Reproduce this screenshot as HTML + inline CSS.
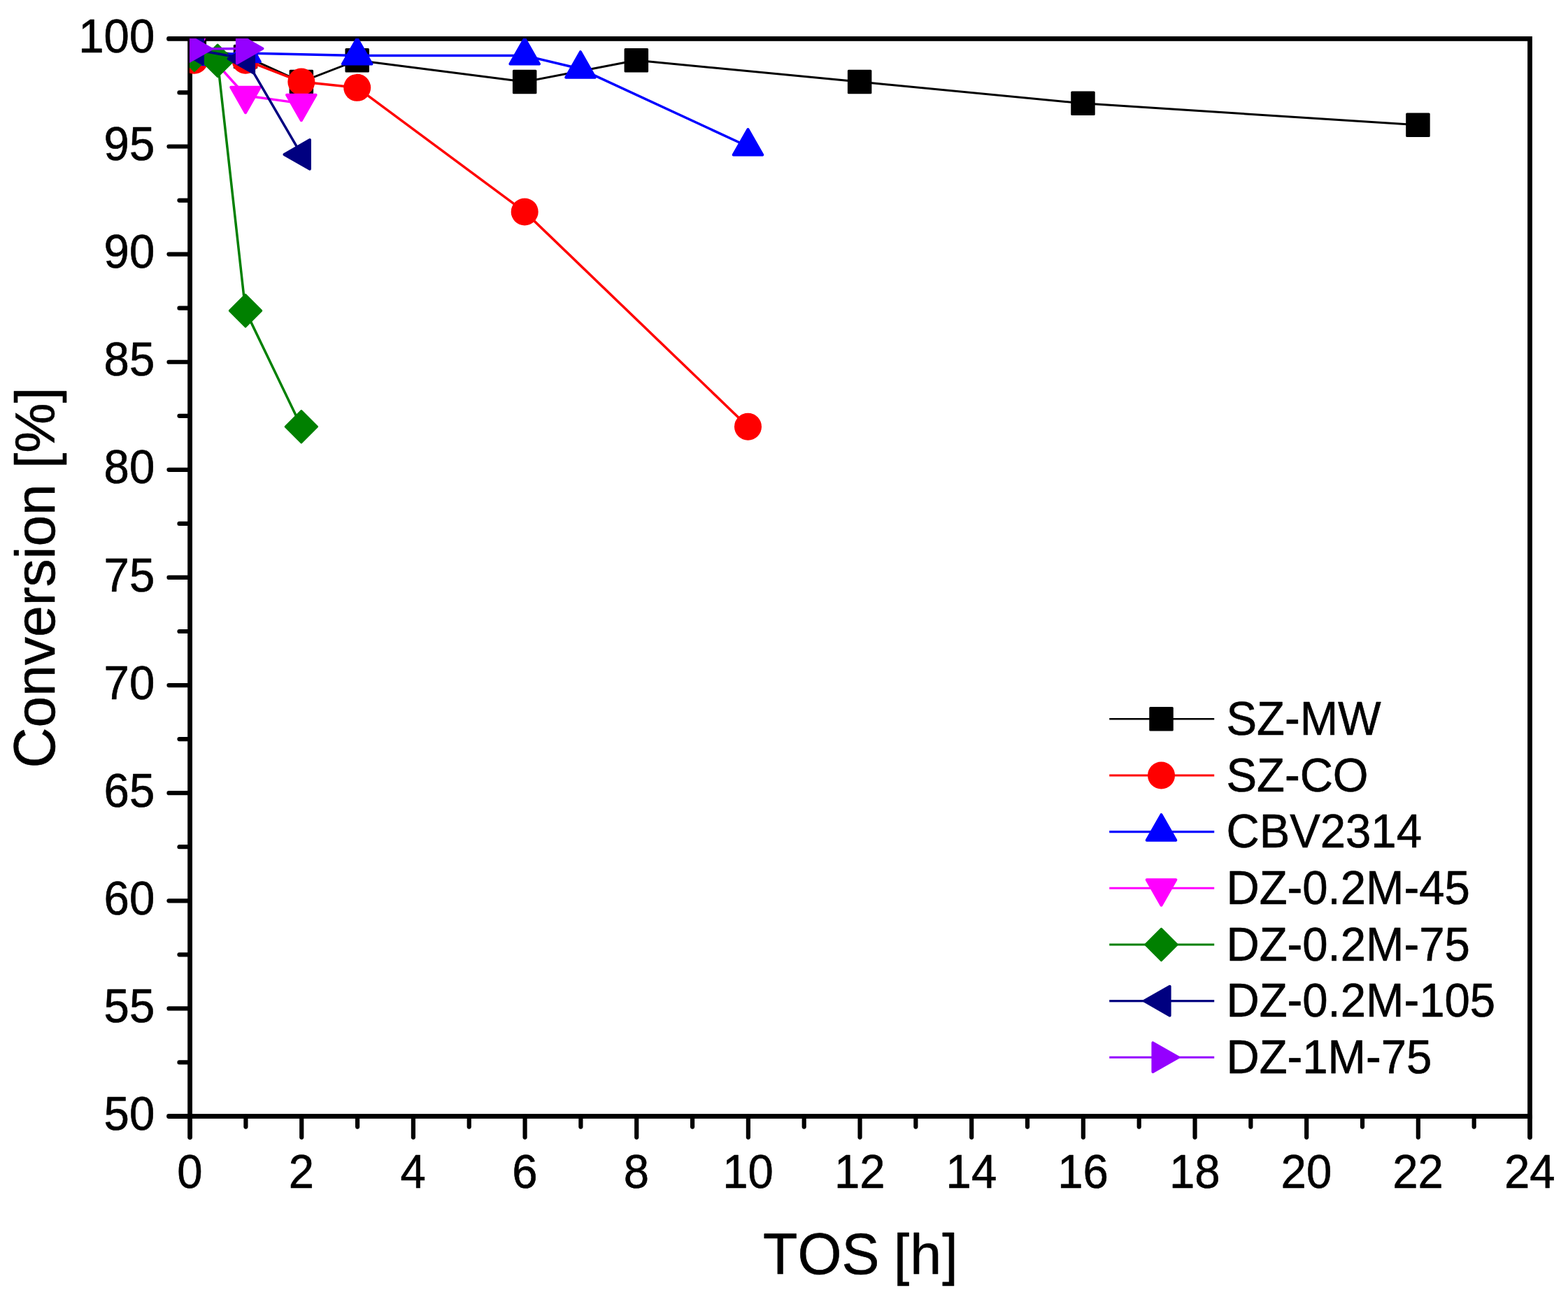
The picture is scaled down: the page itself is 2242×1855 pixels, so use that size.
<!DOCTYPE html>
<html lang="en">
<head>
<meta charset="utf-8">
<title>Conversion vs TOS</title>
<style>
html,body{margin:0;padding:0;background:#fff;}
body{width:2242px;height:1855px;overflow:hidden;}
svg{display:block;}
text{font-family:"Liberation Sans",sans-serif;fill:#000;font-kerning:none;stroke:#000;stroke-width:0.6px;stroke-linejoin:round;}
</style>
</head>
<body>
<svg width="2242" height="1855" viewBox="0 0 2242 1855">
<rect x="0" y="0" width="2242" height="1855" fill="#ffffff"/>
<defs><clipPath id="plotclip"><rect x="271.00" y="55.00" width="1917.00" height="1542.00"/></clipPath></defs>
<g id="axes" stroke="#000" fill="none">
<rect x="271.60" y="55.40" width="1915.90" height="1541.10" stroke-width="6.80" stroke-linejoin="miter"/>
<g stroke-width="6.20" stroke-linecap="round">
<line x1="271.60" y1="1596.50" x2="271.60" y2="1626.60" stroke-width="6.80"/>
<line x1="351.43" y1="1596.50" x2="351.43" y2="1611.60"/>
<line x1="431.26" y1="1596.50" x2="431.26" y2="1626.60"/>
<line x1="511.09" y1="1596.50" x2="511.09" y2="1611.60"/>
<line x1="590.92" y1="1596.50" x2="590.92" y2="1626.60"/>
<line x1="670.75" y1="1596.50" x2="670.75" y2="1611.60"/>
<line x1="750.58" y1="1596.50" x2="750.58" y2="1626.60"/>
<line x1="830.40" y1="1596.50" x2="830.40" y2="1611.60"/>
<line x1="910.23" y1="1596.50" x2="910.23" y2="1626.60"/>
<line x1="990.06" y1="1596.50" x2="990.06" y2="1611.60"/>
<line x1="1069.89" y1="1596.50" x2="1069.89" y2="1626.60"/>
<line x1="1149.72" y1="1596.50" x2="1149.72" y2="1611.60"/>
<line x1="1229.55" y1="1596.50" x2="1229.55" y2="1626.60"/>
<line x1="1309.38" y1="1596.50" x2="1309.38" y2="1611.60"/>
<line x1="1389.21" y1="1596.50" x2="1389.21" y2="1626.60"/>
<line x1="1469.04" y1="1596.50" x2="1469.04" y2="1611.60"/>
<line x1="1548.87" y1="1596.50" x2="1548.87" y2="1626.60"/>
<line x1="1628.70" y1="1596.50" x2="1628.70" y2="1611.60"/>
<line x1="1708.53" y1="1596.50" x2="1708.53" y2="1626.60"/>
<line x1="1788.35" y1="1596.50" x2="1788.35" y2="1611.60"/>
<line x1="1868.18" y1="1596.50" x2="1868.18" y2="1626.60"/>
<line x1="1948.01" y1="1596.50" x2="1948.01" y2="1611.60"/>
<line x1="2027.84" y1="1596.50" x2="2027.84" y2="1626.60"/>
<line x1="2107.67" y1="1596.50" x2="2107.67" y2="1611.60"/>
<line x1="2187.50" y1="1596.50" x2="2187.50" y2="1626.60" stroke-width="6.80"/>
<line x1="271.60" y1="1596.50" x2="241.50" y2="1596.50" stroke-width="6.80"/>
<line x1="271.60" y1="1519.44" x2="256.50" y2="1519.44"/>
<line x1="271.60" y1="1442.39" x2="241.50" y2="1442.39"/>
<line x1="271.60" y1="1365.34" x2="256.50" y2="1365.34"/>
<line x1="271.60" y1="1288.28" x2="241.50" y2="1288.28"/>
<line x1="271.60" y1="1211.22" x2="256.50" y2="1211.22"/>
<line x1="271.60" y1="1134.17" x2="241.50" y2="1134.17"/>
<line x1="271.60" y1="1057.12" x2="256.50" y2="1057.12"/>
<line x1="271.60" y1="980.06" x2="241.50" y2="980.06"/>
<line x1="271.60" y1="903.00" x2="256.50" y2="903.00"/>
<line x1="271.60" y1="825.95" x2="241.50" y2="825.95"/>
<line x1="271.60" y1="748.89" x2="256.50" y2="748.89"/>
<line x1="271.60" y1="671.84" x2="241.50" y2="671.84"/>
<line x1="271.60" y1="594.78" x2="256.50" y2="594.78"/>
<line x1="271.60" y1="517.73" x2="241.50" y2="517.73"/>
<line x1="271.60" y1="440.67" x2="256.50" y2="440.67"/>
<line x1="271.60" y1="363.62" x2="241.50" y2="363.62"/>
<line x1="271.60" y1="286.57" x2="256.50" y2="286.57"/>
<line x1="271.60" y1="209.51" x2="241.50" y2="209.51"/>
<line x1="271.60" y1="132.45" x2="256.50" y2="132.45"/>
<line x1="271.60" y1="55.40" x2="241.50" y2="55.40" stroke-width="6.80"/>
</g>
</g>
<g id="xticklabels" font-size="65.30" text-anchor="middle">
<text transform="translate(271.30 1698.80) scale(1 1.040)">0</text>
<text transform="translate(430.96 1698.80) scale(1 1.040)">2</text>
<text transform="translate(590.62 1698.80) scale(1 1.040)">4</text>
<text transform="translate(750.28 1698.80) scale(1 1.040)">6</text>
<text transform="translate(909.93 1698.80) scale(1 1.040)">8</text>
<text transform="translate(1069.59 1698.80) scale(1 1.040)">10</text>
<text transform="translate(1229.25 1698.80) scale(1 1.040)">12</text>
<text transform="translate(1388.91 1698.80) scale(1 1.040)">14</text>
<text transform="translate(1548.57 1698.80) scale(1 1.040)">16</text>
<text transform="translate(1708.23 1698.80) scale(1 1.040)">18</text>
<text transform="translate(1867.88 1698.80) scale(1 1.040)">20</text>
<text transform="translate(2027.54 1698.80) scale(1 1.040)">22</text>
<text transform="translate(2187.20 1698.80) scale(1 1.040)">24</text>
</g>
<g id="yticklabels" font-size="65.30" text-anchor="end">
<text transform="translate(221.20 1616.10) scale(1 1.040)">50</text>
<text transform="translate(221.20 1461.99) scale(1 1.040)">55</text>
<text transform="translate(221.20 1307.88) scale(1 1.040)">60</text>
<text transform="translate(221.20 1153.77) scale(1 1.040)">65</text>
<text transform="translate(221.20 999.66) scale(1 1.040)">70</text>
<text transform="translate(221.20 845.55) scale(1 1.040)">75</text>
<text transform="translate(221.20 691.44) scale(1 1.040)">80</text>
<text transform="translate(221.20 537.33) scale(1 1.040)">85</text>
<text transform="translate(221.20 383.22) scale(1 1.040)">90</text>
<text transform="translate(221.20 229.11) scale(1 1.040)">95</text>
<text transform="translate(221.20 75.00) scale(1 1.040)">100</text>
</g>
<text id="xlabel" x="1091.1" y="1822.0" font-size="80.90"><tspan font-size="84.14" textLength="166.30" lengthAdjust="spacingAndGlyphs">TOS</tspan><tspan dx="-2.9" letter-spacing="0.9"> [h]</tspan></text>
<text id="ylabel" transform="translate(78.2 826.2) rotate(-90)" font-size="80.30" text-anchor="middle"><tspan font-size="83.51" textLength="57.99" lengthAdjust="spacingAndGlyphs">C</tspan>onversion [%]</text>
<g id="data" clip-path="url(#plotclip)">
<g>
<polyline points="277.85,67.73 351.03,80.98 430.86,117.04 510.69,86.22 750.18,117.04 909.83,86.22 1229.15,117.04 1548.47,147.87 2027.44,178.69" fill="none" stroke="#000000" stroke-width="3.00" stroke-linejoin="round"/>
<rect x="262.10" y="51.98" width="31.50" height="31.50" fill="#000000" stroke="#000000" stroke-width="3.0" stroke-linejoin="round"/>
<rect x="335.28" y="65.23" width="31.50" height="31.50" fill="#000000" stroke="#000000" stroke-width="3.0" stroke-linejoin="round"/>
<rect x="415.11" y="101.29" width="31.50" height="31.50" fill="#000000" stroke="#000000" stroke-width="3.0" stroke-linejoin="round"/>
<rect x="494.94" y="70.47" width="31.50" height="31.50" fill="#000000" stroke="#000000" stroke-width="3.0" stroke-linejoin="round"/>
<rect x="734.43" y="101.29" width="31.50" height="31.50" fill="#000000" stroke="#000000" stroke-width="3.0" stroke-linejoin="round"/>
<rect x="894.08" y="70.47" width="31.50" height="31.50" fill="#000000" stroke="#000000" stroke-width="3.0" stroke-linejoin="round"/>
<rect x="1213.40" y="101.29" width="31.50" height="31.50" fill="#000000" stroke="#000000" stroke-width="3.0" stroke-linejoin="round"/>
<rect x="1532.72" y="132.12" width="31.50" height="31.50" fill="#000000" stroke="#000000" stroke-width="3.0" stroke-linejoin="round"/>
<rect x="2011.69" y="162.94" width="31.50" height="31.50" fill="#000000" stroke="#000000" stroke-width="3.0" stroke-linejoin="round"/>
</g>
<g>
<polyline points="277.85,86.22 351.03,86.22 430.86,117.04 510.69,125.37 750.18,302.90 1069.49,610.20" fill="none" stroke="#ff0000" stroke-width="3.50" stroke-linejoin="round"/>
<circle cx="277.85" cy="86.22" r="19.50" fill="#ff0000"/>
<circle cx="351.03" cy="86.22" r="19.50" fill="#ff0000"/>
<circle cx="430.86" cy="117.04" r="19.50" fill="#ff0000"/>
<circle cx="510.69" cy="125.37" r="19.50" fill="#ff0000"/>
<circle cx="750.18" cy="302.90" r="19.50" fill="#ff0000"/>
<circle cx="1069.49" cy="610.20" r="19.50" fill="#ff0000"/>
</g>
<g>
<polyline points="277.85,80.06 351.03,76.05 510.69,79.44 750.18,79.44 830.00,98.55 1069.49,209.51" fill="none" stroke="#0000ff" stroke-width="3.50" stroke-linejoin="round"/>
<polygon points="277.85,55.66 298.65,92.16 257.05,92.16" fill="#0000ff" stroke="#0000ff" stroke-width="4.0" stroke-linejoin="round"/>
<polygon points="351.03,51.65 371.83,88.15 330.23,88.15" fill="#0000ff" stroke="#0000ff" stroke-width="4.0" stroke-linejoin="round"/>
<polygon points="510.69,55.04 531.49,91.54 489.89,91.54" fill="#0000ff" stroke="#0000ff" stroke-width="4.0" stroke-linejoin="round"/>
<polygon points="750.18,55.04 770.98,91.54 729.38,91.54" fill="#0000ff" stroke="#0000ff" stroke-width="4.0" stroke-linejoin="round"/>
<polygon points="830.00,74.15 850.80,110.65 809.20,110.65" fill="#0000ff" stroke="#0000ff" stroke-width="4.0" stroke-linejoin="round"/>
<polygon points="1069.49,185.11 1090.29,221.61 1048.69,221.61" fill="#0000ff" stroke="#0000ff" stroke-width="4.0" stroke-linejoin="round"/>
</g>
<g>
<polyline points="277.85,55.40 351.03,136.77 430.86,147.87" fill="none" stroke="#ff00ff" stroke-width="3.50" stroke-linejoin="round"/>
<polygon points="277.85,79.80 298.65,43.30 257.05,43.30" fill="#ff00ff" stroke="#ff00ff" stroke-width="4.0" stroke-linejoin="round"/>
<polygon points="351.03,161.17 371.83,124.67 330.23,124.67" fill="#ff00ff" stroke="#ff00ff" stroke-width="4.0" stroke-linejoin="round"/>
<polygon points="430.86,172.27 451.66,135.77 410.06,135.77" fill="#ff00ff" stroke="#ff00ff" stroke-width="4.0" stroke-linejoin="round"/>
</g>
<g>
<polyline points="277.85,78.82 311.11,86.84 351.03,444.37 430.86,610.20" fill="none" stroke="#008000" stroke-width="3.50" stroke-linejoin="round"/>
<polygon points="277.85,56.12 300.55,78.82 277.85,101.52 255.15,78.82" fill="#008000" stroke="#008000" stroke-width="3.0" stroke-linejoin="round"/>
<polygon points="311.11,64.14 333.81,86.84 311.11,109.54 288.41,86.84" fill="#008000" stroke="#008000" stroke-width="3.0" stroke-linejoin="round"/>
<polygon points="351.03,421.67 373.73,444.37 351.03,467.07 328.33,444.37" fill="#008000" stroke="#008000" stroke-width="3.0" stroke-linejoin="round"/>
<polygon points="430.86,587.50 453.56,610.20 430.86,632.90 408.16,610.20" fill="#008000" stroke="#008000" stroke-width="3.0" stroke-linejoin="round"/>
</g>
<g>
<polyline points="277.85,70.81 351.03,84.06 430.86,220.91" fill="none" stroke="#000080" stroke-width="3.50" stroke-linejoin="round"/>
<polygon points="253.45,70.81 289.95,50.01 289.95,91.61" fill="#000080" stroke="#000080" stroke-width="4.0" stroke-linejoin="round"/>
<polygon points="326.63,84.06 363.13,63.26 363.13,104.86" fill="#000080" stroke="#000080" stroke-width="4.0" stroke-linejoin="round"/>
<polygon points="406.46,220.91 442.96,200.11 442.96,241.71" fill="#000080" stroke="#000080" stroke-width="4.0" stroke-linejoin="round"/>
</g>
<g>
<polyline points="277.85,69.89 351.03,69.58" fill="none" stroke="#9500ff" stroke-width="3.50" stroke-linejoin="round"/>
<polygon points="302.25,69.89 265.75,49.09 265.75,90.69" fill="#9500ff" stroke="#9500ff" stroke-width="4.0" stroke-linejoin="round"/>
<polygon points="375.43,69.58 338.93,48.78 338.93,90.38" fill="#9500ff" stroke="#9500ff" stroke-width="4.0" stroke-linejoin="round"/>
</g>
</g>
<g id="legend" font-size="65.30">
<line x1="1586.20" y1="1028.20" x2="1736.20" y2="1028.20" stroke="#000000" stroke-width="2.60"/>
<rect x="1644.75" y="1012.45" width="31.50" height="31.50" fill="#000000" stroke="#000000" stroke-width="3.0" stroke-linejoin="round"/>
<text transform="translate(1753.50 1051.00) scale(1 1.040)">SZ-MW</text>
<line x1="1586.20" y1="1109.00" x2="1736.20" y2="1109.00" stroke="#ff0000" stroke-width="3.10"/>
<circle cx="1660.50" cy="1109.00" r="19.50" fill="#ff0000"/>
<text transform="translate(1753.50 1131.80) scale(1 1.040)">SZ-CO</text>
<line x1="1586.20" y1="1189.60" x2="1736.20" y2="1189.60" stroke="#0000ff" stroke-width="3.10"/>
<polygon points="1660.50,1165.20 1681.30,1201.70 1639.70,1201.70" fill="#0000ff" stroke="#0000ff" stroke-width="4.0" stroke-linejoin="round"/>
<text transform="translate(1753.50 1212.40) scale(1 1.040)">CBV2314</text>
<line x1="1586.20" y1="1270.30" x2="1736.20" y2="1270.30" stroke="#ff00ff" stroke-width="3.10"/>
<polygon points="1660.50,1294.70 1681.30,1258.20 1639.70,1258.20" fill="#ff00ff" stroke="#ff00ff" stroke-width="4.0" stroke-linejoin="round"/>
<text transform="translate(1753.50 1293.10) scale(1 1.040)">DZ-0.2M-45</text>
<line x1="1586.20" y1="1351.00" x2="1736.20" y2="1351.00" stroke="#008000" stroke-width="3.10"/>
<polygon points="1660.50,1328.30 1683.20,1351.00 1660.50,1373.70 1637.80,1351.00" fill="#008000" stroke="#008000" stroke-width="3.0" stroke-linejoin="round"/>
<text transform="translate(1753.50 1373.80) scale(1 1.040)">DZ-0.2M-75</text>
<line x1="1586.20" y1="1431.60" x2="1736.20" y2="1431.60" stroke="#000080" stroke-width="3.10"/>
<polygon points="1636.10,1431.60 1672.60,1410.80 1672.60,1452.40" fill="#000080" stroke="#000080" stroke-width="4.0" stroke-linejoin="round"/>
<text transform="translate(1753.50 1454.40) scale(1 1.040)">DZ-0.2M-105</text>
<line x1="1586.20" y1="1512.20" x2="1736.20" y2="1512.20" stroke="#9500ff" stroke-width="3.10"/>
<polygon points="1684.90,1512.20 1648.40,1491.40 1648.40,1533.00" fill="#9500ff" stroke="#9500ff" stroke-width="4.0" stroke-linejoin="round"/>
<text transform="translate(1753.50 1535.00) scale(1 1.040)">DZ-1M-75</text>
</g>
</svg>
</body>
</html>
